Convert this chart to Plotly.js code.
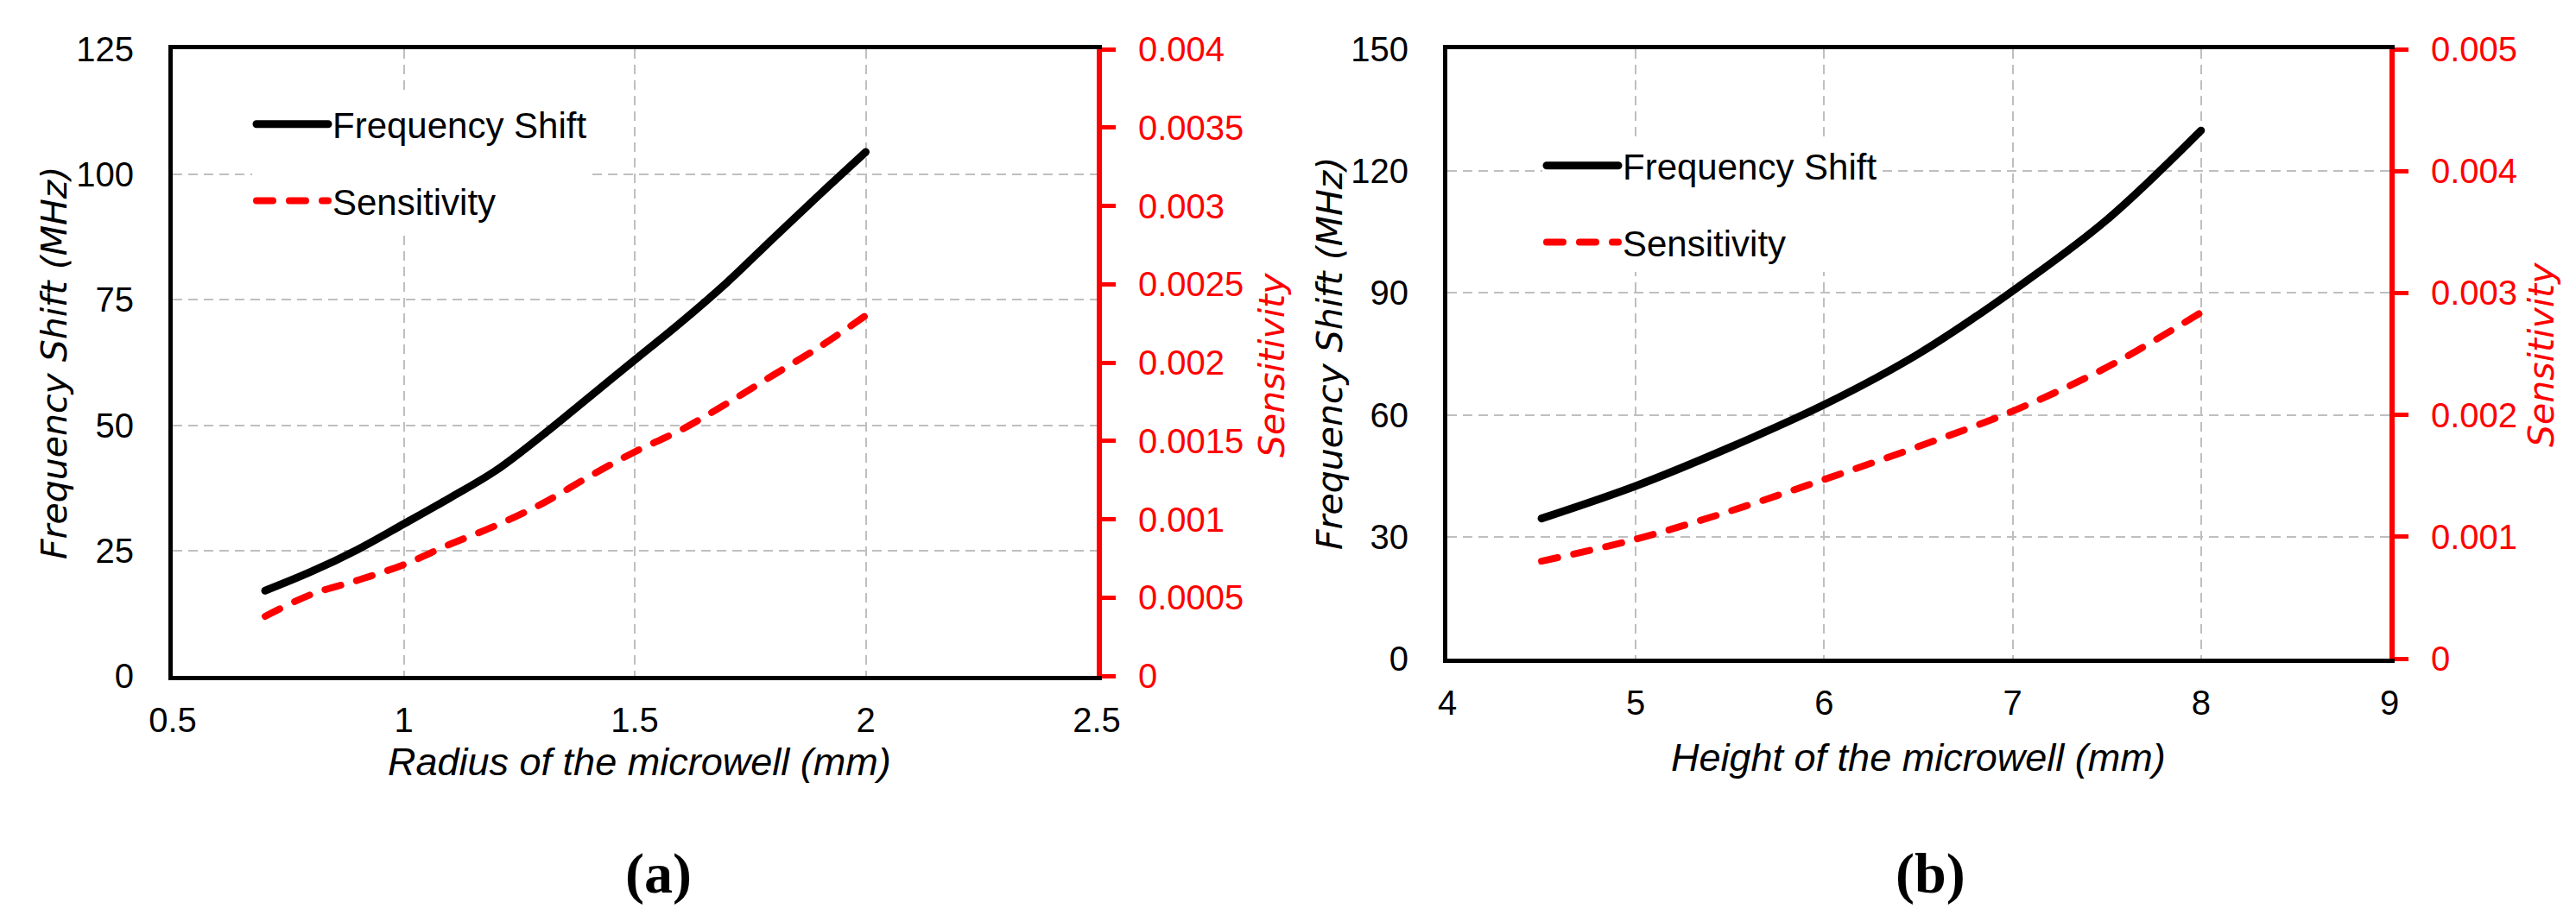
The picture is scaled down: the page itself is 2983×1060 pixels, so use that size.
<!DOCTYPE html>
<html>
<head>
<meta charset="utf-8">
<script src="https://cdn.plot.ly/plotly-3.0.1.min.js"></script>
<style>
html, body { margin: 0; padding: 0; background: #ffffff; }
#chart { width: 2983px; height: 1060px; }
.scatterlayer .js-line, .legendlines path { stroke-linecap: round; stroke-linejoin: round; }
</style>
</head>
<body>
<div id="chart"></div>
<script>
// ---- Data ----
const radiusMM = [0.7, 0.8, 0.9, 1.0, 1.1, 1.2, 1.3, 1.4, 1.5, 1.6, 1.7, 1.8, 1.9, 2.0];
const freqShiftA = [17, 20.8, 25.2, 30.3, 35.5, 41, 48, 55.5, 63, 70.5, 78.5, 87.3, 96, 104.5];
const sensitivityA = [0.00038, 0.00052, 0.00061, 0.00071, 0.00084, 0.00096, 0.0011, 0.00127, 0.00143, 0.00157, 0.00174, 0.00192, 0.0021, 0.0023];

const heightMM = [4.5, 5.0, 5.5, 6.0, 6.5, 7.0, 7.5, 8.0];
const freqShiftB = [34.5, 42.5, 52, 62.5, 75, 90.5, 108, 130];
const sensitivityB = [0.0008, 0.00098, 0.00121, 0.00147, 0.00174, 0.00203, 0.00239, 0.00284];

const seriesNames = ["Frequency Shift", "Sensitivity"];
const xTitles = ["Radius of the microwell (mm)", "Height of the microwell (mm)"];
const yTitle = "Frequency Shift (MHz)";
const y2Title = "Sensitivity";
const panelLabels = ["(a)", "(b)"];

// ---- Layout helpers ----
const W = 2983, H = 1060;
const px = v => v / W;
const py = v => 1 - v / H;

const tickFont = { family: "Liberation Sans, Arial, sans-serif", size: 40, color: "#000000" };
const redTickFont = { family: "Liberation Sans, Arial, sans-serif", size: 40, color: "#ff0000" };
const legendFont = { family: "Liberation Sans, Arial, sans-serif", size: 42, color: "#000000" };
const gridColor = "#bfbfbf";

const blackLine = { color: "#000000", width: 9, shape: "spline", smoothing: 1 };
const redLine = { color: "#ff0000", width: 8, dash: "19px,19px", shape: "spline", smoothing: 1 };

const traces = [
  { x: radiusMM, y: freqShiftA, name: seriesNames[0], type: "scatter", mode: "lines",
    line: blackLine, xaxis: "x", yaxis: "y", legend: "legend", legendgroup: "a1" },
  { x: radiusMM, y: sensitivityA, name: seriesNames[1], type: "scatter", mode: "lines",
    line: redLine, xaxis: "x", yaxis: "y2", legend: "legend", legendgroup: "a2" },
  { x: heightMM, y: freqShiftB, name: seriesNames[0], type: "scatter", mode: "lines",
    line: blackLine, xaxis: "x2", yaxis: "y3", legend: "legend2", legendgroup: "b1" },
  { x: heightMM, y: sensitivityB, name: seriesNames[1], type: "scatter", mode: "lines",
    line: redLine, xaxis: "x2", yaxis: "y4", legend: "legend2", legendgroup: "b2" }
];

function xAxis(domain, range, dtick, anchor) {
  return {
    domain: domain, range: range, dtick: dtick, tick0: range[0], anchor: anchor,
    showgrid: true, gridcolor: gridColor, gridwidth: 2, griddash: "11px,7px",
    showline: true, linecolor: "#000000", linewidth: 5, mirror: true,
    ticks: "", tickfont: tickFont, ticklabelstandoff: 12, zeroline: false, fixedrange: true
  };
}
function yAxis(domain, range, dtick, anchor) {
  return {
    domain: domain, range: range, dtick: dtick, tick0: 0, anchor: anchor,
    showgrid: true, gridcolor: gridColor, gridwidth: 2, griddash: "11px,7px",
    showline: true, linecolor: "#000000", linewidth: 5,
    ticks: "", tickfont: tickFont, ticklabelstandoff: 32, zeroline: false, fixedrange: true
  };
}
function y2Axis(overlay, anchor, range, dtick) {
  return {
    overlaying: overlay, side: "right", anchor: anchor, range: range, dtick: dtick, tick0: 0,
    showgrid: false, showline: true, linecolor: "#ff0000", linewidth: 6,
    ticks: "outside", ticklen: 16, tickwidth: 5, tickcolor: "#ff0000",
    tickfont: redTickFont, tickformat: "~g", ticklabelstandoff: 18, zeroline: false, fixedrange: true
  };
}

const legendBase = {
  bgcolor: "#ffffff", borderwidth: 0, font: legendFont, xanchor: "left", yanchor: "top",
  itemwidth: 83, tracegroupgap: 31, traceorder: "grouped", itemclick: false, itemdoubleclick: false
};

function ann(text, x, y, font, angle) {
  return { text: text, x: px(x), y: py(y), xref: "paper", yref: "paper", showarrow: false,
           xanchor: "center", yanchor: "middle", textangle: angle || 0, font: font };
}
const yTitleFont = { family: "DejaVu Sans, Verdana, sans-serif", size: 41, color: "#000000", style: "italic" };
const y2TitleFont = { family: "DejaVu Sans, Verdana, sans-serif", size: 41, color: "#ff0000", style: "italic" };
const xTitleFont = { family: "Liberation Sans, Arial, sans-serif", size: 45, color: "#000000", style: "italic" };
const panelFont = { family: "Liberation Serif, Times New Roman, serif", size: 66, color: "#000000", weight: "bold" };

const layout = {
  width: W, height: H,
  margin: { l: 0, r: 0, t: 0, b: 0, pad: 0 },
  paper_bgcolor: "#ffffff", plot_bgcolor: "#ffffff",
  showlegend: true,
  xaxis: xAxis([px(200), px(1270)], [0.5, 2.5], 0.5, "y"),
  yaxis: yAxis([py(783), py(57)], [0, 125], 25, "x"),
  yaxis2: y2Axis("y", "x", [0, 0.004], 0.0005),
  xaxis2: xAxis([px(1676), px(2767)], [4, 9], 1, "y3"),
  yaxis3: yAxis([py(763), py(57)], [0, 150], 30, "x2"),
  yaxis4: y2Axis("y3", "x2", [0, 0.005], 0.001),
  legend: Object.assign({}, legendBase, { x: px(292), y: py(110) }),
  legend2: Object.assign({}, legendBase, { x: px(1786), y: py(158) }),
  annotations: [
    ann(yTitle, 63, 421, yTitleFont, -90),
    ann(y2Title, 1473, 423, y2TitleFont, -90),
    ann(xTitles[0], 740, 882, xTitleFont),
    ann(panelLabels[0], 762, 1012, panelFont),
    ann(yTitle, 1540, 410, yTitleFont, -90),
    ann(y2Title, 2943, 411, y2TitleFont, -90),
    ann(xTitles[1], 2221, 877, xTitleFont),
    ann(panelLabels[1], 2235, 1012, panelFont)
  ]
};

Plotly.newPlot("chart", traces, layout, { staticPlot: true, displayModeBar: false });
</script>
</body>
</html>
